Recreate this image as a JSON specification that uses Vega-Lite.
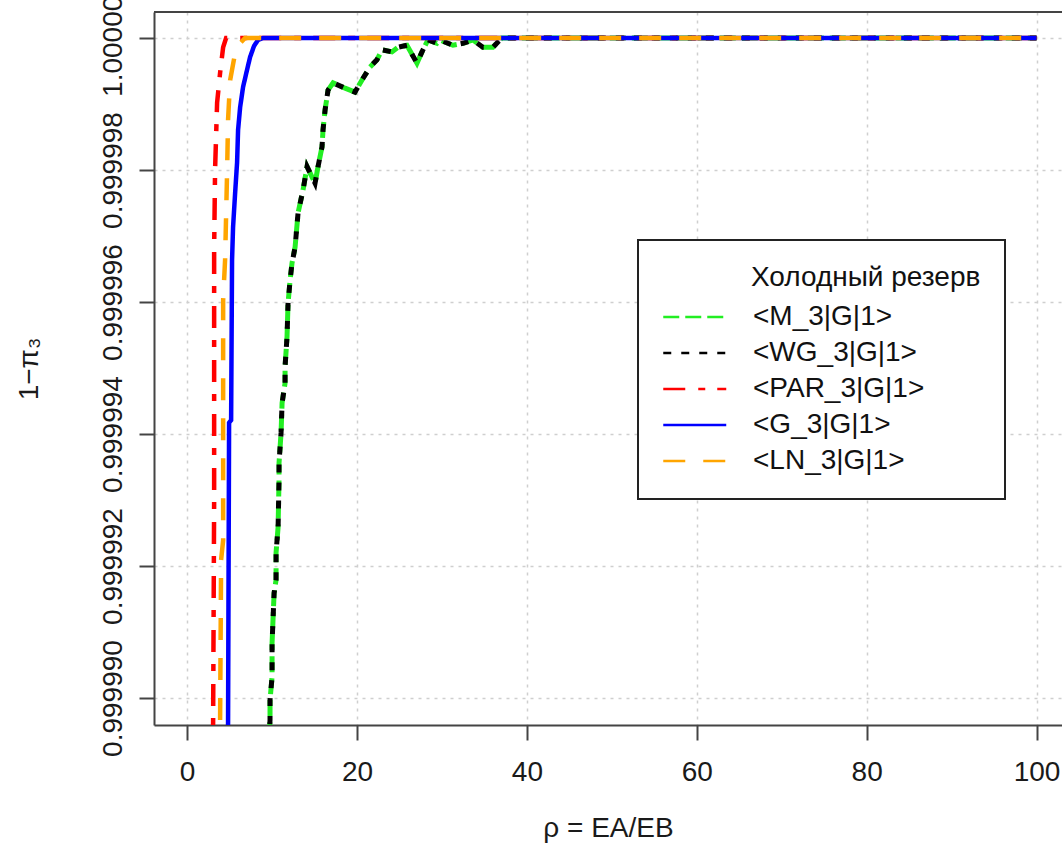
{
  "$schema": "https://vega.github.io/schema/vega-lite/v6.json",
  "width": 908,
  "height": 713,
  "autosize": {"type": "none"},
  "padding": {"left": 154, "top": 12, "right": 0, "bottom": 123},
  "background": "white",
  "config": {
    "view": {"stroke": null},
    "font": "Liberation Sans, Arial, sans-serif",
    "axis": {
      "domainColor": "#444444", "domainWidth": 2,
      "tickColor": "#444444", "tickWidth": 2, "tickSize": 15,
      "labelFontSize": 28, "labelColor": "#1a1a1a", "labelFont": "Liberation Sans, Arial, sans-serif",
      "titleFontSize": 28, "titleFontWeight": "normal", "titleColor": "#1a1a1a", "titleFont": "Liberation Sans, Arial, sans-serif",
      "gridColor": "#cfcfcf", "gridDash": [3, 5], "gridWidth": 1.5
    }
  },
  "data": {"values": [
    {"s": "<M_3|G|1>", "i": 1, "x": 9.53, "y": 0.99998906},
    {"s": "<M_3|G|1>", "i": 2, "x": 9.76, "y": 0.99998967},
    {"s": "<M_3|G|1>", "i": 3, "x": 9.76, "y": 0.99998997},
    {"s": "<M_3|G|1>", "i": 4, "x": 10.0, "y": 0.99999032},
    {"s": "<M_3|G|1>", "i": 5, "x": 10.0, "y": 0.99999083},
    {"s": "<M_3|G|1>", "i": 6, "x": 10.24, "y": 0.99999159},
    {"s": "<M_3|G|1>", "i": 7, "x": 10.47, "y": 0.99999179},
    {"s": "<M_3|G|1>", "i": 8, "x": 10.47, "y": 0.9999922},
    {"s": "<M_3|G|1>", "i": 9, "x": 10.71, "y": 0.99999259},
    {"s": "<M_3|G|1>", "i": 10, "x": 10.82, "y": 0.9999933},
    {"s": "<M_3|G|1>", "i": 11, "x": 10.82, "y": 0.99999356},
    {"s": "<M_3|G|1>", "i": 12, "x": 11.06, "y": 0.99999402},
    {"s": "<M_3|G|1>", "i": 13, "x": 11.18, "y": 0.99999447},
    {"s": "<M_3|G|1>", "i": 14, "x": 11.53, "y": 0.99999477},
    {"s": "<M_3|G|1>", "i": 15, "x": 11.53, "y": 0.99999502},
    {"s": "<M_3|G|1>", "i": 16, "x": 11.76, "y": 0.99999547},
    {"s": "<M_3|G|1>", "i": 17, "x": 11.88, "y": 0.99999598},
    {"s": "<M_3|G|1>", "i": 18, "x": 12.12, "y": 0.99999633},
    {"s": "<M_3|G|1>", "i": 19, "x": 12.35, "y": 0.99999659},
    {"s": "<M_3|G|1>", "i": 20, "x": 12.71, "y": 0.99999683},
    {"s": "<M_3|G|1>", "i": 21, "x": 13.06, "y": 0.99999735},
    {"s": "<M_3|G|1>", "i": 22, "x": 13.65, "y": 0.9999977},
    {"s": "<M_3|G|1>", "i": 23, "x": 14.12, "y": 0.99999805},
    {"s": "<M_3|G|1>", "i": 24, "x": 15.06, "y": 0.9999978},
    {"s": "<M_3|G|1>", "i": 25, "x": 15.41, "y": 0.99999805},
    {"s": "<M_3|G|1>", "i": 26, "x": 15.88, "y": 0.99999835},
    {"s": "<M_3|G|1>", "i": 27, "x": 16.0, "y": 0.99999861},
    {"s": "<M_3|G|1>", "i": 28, "x": 16.24, "y": 0.99999891},
    {"s": "<M_3|G|1>", "i": 29, "x": 16.59, "y": 0.99999921},
    {"s": "<M_3|G|1>", "i": 30, "x": 17.18, "y": 0.99999932},
    {"s": "<M_3|G|1>", "i": 31, "x": 18.59, "y": 0.99999924},
    {"s": "<M_3|G|1>", "i": 32, "x": 19.76, "y": 0.99999918},
    {"s": "<M_3|G|1>", "i": 33, "x": 20.71, "y": 0.99999939},
    {"s": "<M_3|G|1>", "i": 34, "x": 21.53, "y": 0.99999956},
    {"s": "<M_3|G|1>", "i": 35, "x": 22.35, "y": 0.99999967},
    {"s": "<M_3|G|1>", "i": 36, "x": 22.94, "y": 0.99999982},
    {"s": "<M_3|G|1>", "i": 37, "x": 24.12, "y": 0.99999979},
    {"s": "<M_3|G|1>", "i": 38, "x": 24.82, "y": 0.99999986},
    {"s": "<M_3|G|1>", "i": 39, "x": 25.88, "y": 0.99999989},
    {"s": "<M_3|G|1>", "i": 40, "x": 27.06, "y": 0.99999962},
    {"s": "<M_3|G|1>", "i": 41, "x": 27.65, "y": 0.99999979},
    {"s": "<M_3|G|1>", "i": 42, "x": 28.35, "y": 0.99999997},
    {"s": "<M_3|G|1>", "i": 43, "x": 29.41, "y": 0.99999992},
    {"s": "<M_3|G|1>", "i": 44, "x": 29.76, "y": 0.99999997},
    {"s": "<M_3|G|1>", "i": 45, "x": 31.29, "y": 0.99999989},
    {"s": "<M_3|G|1>", "i": 46, "x": 32.47, "y": 0.99999992},
    {"s": "<M_3|G|1>", "i": 47, "x": 33.65, "y": 0.99999997},
    {"s": "<M_3|G|1>", "i": 48, "x": 34.82, "y": 0.99999986},
    {"s": "<M_3|G|1>", "i": 49, "x": 36.0, "y": 0.99999986},
    {"s": "<M_3|G|1>", "i": 50, "x": 36.59, "y": 0.99999994},
    {"s": "<M_3|G|1>", "i": 51, "x": 37.06, "y": 1.0},
    {"s": "<M_3|G|1>", "i": 52, "x": 100, "y": 1.0},
    {"s": "<WG_3|G|1>", "i": 1, "x": 9.53, "y": 0.99998906},
    {"s": "<WG_3|G|1>", "i": 2, "x": 9.76, "y": 0.99998967},
    {"s": "<WG_3|G|1>", "i": 3, "x": 9.76, "y": 0.99998997},
    {"s": "<WG_3|G|1>", "i": 4, "x": 10.0, "y": 0.99999032},
    {"s": "<WG_3|G|1>", "i": 5, "x": 10.0, "y": 0.99999083},
    {"s": "<WG_3|G|1>", "i": 6, "x": 10.24, "y": 0.99999159},
    {"s": "<WG_3|G|1>", "i": 7, "x": 10.47, "y": 0.99999179},
    {"s": "<WG_3|G|1>", "i": 8, "x": 10.47, "y": 0.9999922},
    {"s": "<WG_3|G|1>", "i": 9, "x": 10.71, "y": 0.99999259},
    {"s": "<WG_3|G|1>", "i": 10, "x": 10.82, "y": 0.9999933},
    {"s": "<WG_3|G|1>", "i": 11, "x": 10.82, "y": 0.99999356},
    {"s": "<WG_3|G|1>", "i": 12, "x": 11.06, "y": 0.99999402},
    {"s": "<WG_3|G|1>", "i": 13, "x": 11.18, "y": 0.99999447},
    {"s": "<WG_3|G|1>", "i": 14, "x": 11.53, "y": 0.99999477},
    {"s": "<WG_3|G|1>", "i": 15, "x": 11.53, "y": 0.99999502},
    {"s": "<WG_3|G|1>", "i": 16, "x": 11.76, "y": 0.99999547},
    {"s": "<WG_3|G|1>", "i": 17, "x": 11.88, "y": 0.99999598},
    {"s": "<WG_3|G|1>", "i": 18, "x": 12.12, "y": 0.99999633},
    {"s": "<WG_3|G|1>", "i": 19, "x": 12.35, "y": 0.99999659},
    {"s": "<WG_3|G|1>", "i": 20, "x": 12.71, "y": 0.99999683},
    {"s": "<WG_3|G|1>", "i": 21, "x": 13.06, "y": 0.99999735},
    {"s": "<WG_3|G|1>", "i": 22, "x": 13.65, "y": 0.9999977},
    {"s": "<WG_3|G|1>", "i": 23, "x": 14.12, "y": 0.99999805},
    {"s": "<WG_3|G|1>", "i": 24, "x": 15.06, "y": 0.9999978},
    {"s": "<WG_3|G|1>", "i": 25, "x": 15.41, "y": 0.99999805},
    {"s": "<WG_3|G|1>", "i": 26, "x": 15.88, "y": 0.99999835},
    {"s": "<WG_3|G|1>", "i": 27, "x": 16.0, "y": 0.99999861},
    {"s": "<WG_3|G|1>", "i": 28, "x": 16.24, "y": 0.99999891},
    {"s": "<WG_3|G|1>", "i": 29, "x": 16.59, "y": 0.99999921},
    {"s": "<WG_3|G|1>", "i": 30, "x": 17.18, "y": 0.99999932},
    {"s": "<WG_3|G|1>", "i": 31, "x": 18.59, "y": 0.99999924},
    {"s": "<WG_3|G|1>", "i": 32, "x": 19.76, "y": 0.99999918},
    {"s": "<WG_3|G|1>", "i": 33, "x": 20.71, "y": 0.99999939},
    {"s": "<WG_3|G|1>", "i": 34, "x": 21.53, "y": 0.99999956},
    {"s": "<WG_3|G|1>", "i": 35, "x": 22.35, "y": 0.99999967},
    {"s": "<WG_3|G|1>", "i": 36, "x": 22.94, "y": 0.99999982},
    {"s": "<WG_3|G|1>", "i": 37, "x": 24.12, "y": 0.99999979},
    {"s": "<WG_3|G|1>", "i": 38, "x": 24.82, "y": 0.99999986},
    {"s": "<WG_3|G|1>", "i": 39, "x": 25.88, "y": 0.99999989},
    {"s": "<WG_3|G|1>", "i": 40, "x": 27.06, "y": 0.99999962},
    {"s": "<WG_3|G|1>", "i": 41, "x": 27.65, "y": 0.99999979},
    {"s": "<WG_3|G|1>", "i": 42, "x": 28.35, "y": 0.99999997},
    {"s": "<WG_3|G|1>", "i": 43, "x": 29.41, "y": 0.99999992},
    {"s": "<WG_3|G|1>", "i": 44, "x": 29.76, "y": 0.99999997},
    {"s": "<WG_3|G|1>", "i": 45, "x": 31.29, "y": 0.99999989},
    {"s": "<WG_3|G|1>", "i": 46, "x": 32.47, "y": 0.99999992},
    {"s": "<WG_3|G|1>", "i": 47, "x": 33.65, "y": 0.99999997},
    {"s": "<WG_3|G|1>", "i": 48, "x": 34.82, "y": 0.99999986},
    {"s": "<WG_3|G|1>", "i": 49, "x": 36.0, "y": 0.99999986},
    {"s": "<WG_3|G|1>", "i": 50, "x": 36.59, "y": 0.99999994},
    {"s": "<WG_3|G|1>", "i": 51, "x": 37.06, "y": 1.0},
    {"s": "<WG_3|G|1>", "i": 52, "x": 100, "y": 1.0},
    {"s": "<PAR_3|G|1>", "i": 1, "x": 2.94, "y": 0.99998906},
    {"s": "<PAR_3|G|1>", "i": 2, "x": 3.06, "y": 0.99998962},
    {"s": "<PAR_3|G|1>", "i": 3, "x": 3.18, "y": 0.999993},
    {"s": "<PAR_3|G|1>", "i": 4, "x": 3.18, "y": 0.99999679},
    {"s": "<PAR_3|G|1>", "i": 5, "x": 3.29, "y": 0.999998},
    {"s": "<PAR_3|G|1>", "i": 6, "x": 3.53, "y": 0.99999902},
    {"s": "<PAR_3|G|1>", "i": 7, "x": 3.88, "y": 0.99999947},
    {"s": "<PAR_3|G|1>", "i": 8, "x": 4.24, "y": 0.99999986},
    {"s": "<PAR_3|G|1>", "i": 9, "x": 4.59, "y": 1.0},
    {"s": "<PAR_3|G|1>", "i": 10, "x": 100, "y": 1.0},
    {"s": "<G_3|G|1>", "i": 1, "x": 4.71, "y": 0.99998906},
    {"s": "<G_3|G|1>", "i": 2, "x": 4.82, "y": 0.99998962},
    {"s": "<G_3|G|1>", "i": 3, "x": 4.94, "y": 0.99999417},
    {"s": "<G_3|G|1>", "i": 4, "x": 5.18, "y": 0.99999421},
    {"s": "<G_3|G|1>", "i": 5, "x": 5.29, "y": 0.99999664},
    {"s": "<G_3|G|1>", "i": 6, "x": 5.41, "y": 0.99999714},
    {"s": "<G_3|G|1>", "i": 7, "x": 5.65, "y": 0.99999765},
    {"s": "<G_3|G|1>", "i": 8, "x": 5.88, "y": 0.99999811},
    {"s": "<G_3|G|1>", "i": 9, "x": 6.0, "y": 0.99999861},
    {"s": "<G_3|G|1>", "i": 10, "x": 6.24, "y": 0.99999895},
    {"s": "<G_3|G|1>", "i": 11, "x": 6.59, "y": 0.99999926},
    {"s": "<G_3|G|1>", "i": 12, "x": 7.06, "y": 0.99999952},
    {"s": "<G_3|G|1>", "i": 13, "x": 7.41, "y": 0.99999971},
    {"s": "<G_3|G|1>", "i": 14, "x": 7.88, "y": 0.99999988},
    {"s": "<G_3|G|1>", "i": 15, "x": 8.35, "y": 0.99999997},
    {"s": "<G_3|G|1>", "i": 16, "x": 8.94, "y": 1.0},
    {"s": "<G_3|G|1>", "i": 17, "x": 100, "y": 1.0},
    {"s": "<LN_3|G|1>", "i": 1, "x": 3.76, "y": 0.99998906},
    {"s": "<LN_3|G|1>", "i": 2, "x": 3.88, "y": 0.99998962},
    {"s": "<LN_3|G|1>", "i": 3, "x": 4.0, "y": 0.99999209},
    {"s": "<LN_3|G|1>", "i": 4, "x": 4.24, "y": 0.99999239},
    {"s": "<LN_3|G|1>", "i": 5, "x": 4.24, "y": 0.99999603},
    {"s": "<LN_3|G|1>", "i": 6, "x": 4.47, "y": 0.99999664},
    {"s": "<LN_3|G|1>", "i": 7, "x": 4.71, "y": 0.999998},
    {"s": "<LN_3|G|1>", "i": 8, "x": 4.82, "y": 0.99999876},
    {"s": "<LN_3|G|1>", "i": 9, "x": 5.06, "y": 0.99999936},
    {"s": "<LN_3|G|1>", "i": 10, "x": 5.65, "y": 0.99999977},
    {"s": "<LN_3|G|1>", "i": 11, "x": 6.24, "y": 0.99999992},
    {"s": "<LN_3|G|1>", "i": 12, "x": 6.82, "y": 1.0},
    {"s": "<LN_3|G|1>", "i": 13, "x": 100, "y": 1.0}
  ]},
  "encoding": {
    "x": {
      "field": "x", "type": "quantitative",
      "scale": {"domain": [-3.9, 103], "nice": false, "zero": false},
      "axis": {"values": [0, 20, 40, 60, 80, 100], "format": "d", "labelPadding": 18, "title": "ρ = EA/EB", "titlePadding": 28, "grid": true}
    },
    "y": {
      "field": "y", "type": "quantitative",
      "scale": {"domain": [0.999989591, 1.000000394], "nice": false, "zero": false},
      "axis": {"values": [0.99999, 0.999992, 0.999994, 0.999996, 0.999998, 1.0], "format": ".6f", "labelAngle": -90, "labelAlign": "center", "labelBaseline": "bottom", "labelPadding": 12, "title": "1−π₃", "titlePadding": 56, "grid": true}
    },
    "color": {
      "field": "s", "type": "nominal",
      "scale": {
        "domain": ["<M_3|G|1>", "<WG_3|G|1>", "<PAR_3|G|1>", "<G_3|G|1>", "<LN_3|G|1>"],
        "range": ["#22ee22", "#000000", "#ff0000", "#0000ff", "#ffa500"]
      },
      "legend": {
        "orient": "none", "legendX": 484, "legendY": 228,
        "title": "Холодный резерв",
        "titleFontSize": 28, "titleFontWeight": "normal", "titleColor": "#111111", "titlePadding": 8, "titleLimit": 800,
        "labelFontSize": 28, "labelColor": "#111111", "labelOffset": 57, "labelLimit": 400,
        "symbolType": "M-1,0L3,0", "symbolSize": 992, "symbolStrokeWidth": 2.5,
        "rowPadding": 5, "padding": 24,
        "fillColor": "white", "strokeColor": "#222222",
        "encode": {
          "legend": {"update": {"strokeWidth": {"value": 2}}},
          "title": {"update": {"dx": {"value": 89}}}
        }
      }
    },
    "strokeDash": {
      "field": "s", "type": "nominal",
      "scale": {
        "domain": ["<M_3|G|1>", "<WG_3|G|1>", "<PAR_3|G|1>", "<G_3|G|1>", "<LN_3|G|1>"],
        "range": [[16, 6], [8, 10], [22, 13, 7, 12], [1, 0], [22, 18]]
      },
      "legend": null
    },
    "order": {"field": "i", "type": "quantitative"}
  },
  "layer": [
    {"transform": [{"filter": "datum.s == '<M_3|G|1>'"}], "mark": {"type": "line", "strokeWidth": 5, "clip": true}},
    {"transform": [{"filter": "datum.s == '<WG_3|G|1>'"}], "mark": {"type": "line", "strokeWidth": 5, "clip": true}},
    {"transform": [{"filter": "datum.s == '<PAR_3|G|1>'"}], "mark": {"type": "line", "strokeWidth": 4.5, "clip": true}},
    {"transform": [{"filter": "datum.s == '<G_3|G|1>'"}], "mark": {"type": "line", "strokeWidth": 4.5, "clip": true}},
    {"transform": [{"filter": "datum.s == '<LN_3|G|1>'"}], "mark": {"type": "line", "strokeWidth": 4.5, "clip": true}},
    {
      "mark": {"type": "rule", "color": "#444444", "strokeWidth": 2},
      "encoding": {"y": {"datum": 1.000000394}, "x": null, "color": null, "strokeDash": null, "order": null}
    }
  ]
}
